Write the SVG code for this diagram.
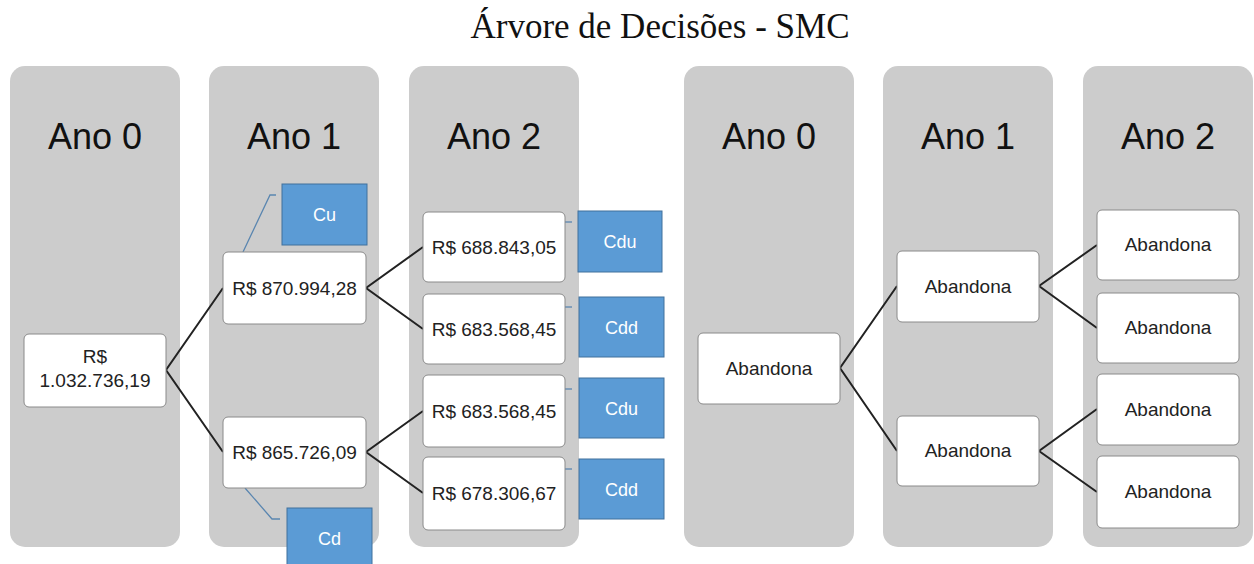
<svg xmlns="http://www.w3.org/2000/svg" width="1254" height="564" viewBox="0 0 1254 564">
  <style>
    .panel { fill: #cccccc; }
    .head { font-family: "Liberation Sans", Arial, sans-serif; font-size: 36px; fill: #111; text-anchor: middle; }
    .node rect { fill: #ffffff; stroke: #8a8a8a; stroke-width: 1; }
    .node text { font-family: "Liberation Sans", Arial, sans-serif; font-size: 19px; fill: #222; text-anchor: middle; }
    .tag rect { fill: #5b9bd5; stroke: #41719c; stroke-width: 1; }
    .tag text { font-family: "Liberation Sans", Arial, sans-serif; font-size: 18px; fill: #ffffff; text-anchor: middle; }
    .edge { stroke: #222; stroke-width: 2; fill: none; }
    .callout { stroke: #5a86b0; stroke-width: 1.3; fill: none; }
    .title { font-family: "Liberation Serif", "Times New Roman", serif; font-size: 35px; fill: #111; text-anchor: middle; }
  </style>

  <rect width="1254" height="564" fill="#ffffff"/>

  <text class="title" x="660" y="38">Árvore de Decisões - SMC</text>

  <!-- year columns -->
  <g id="columns">
    <rect class="panel" x="10" y="66" width="170" height="481" rx="15"/>
    <rect class="panel" x="209" y="66" width="170" height="481" rx="15"/>
    <rect class="panel" x="409" y="66" width="170" height="481" rx="15"/>
    <rect class="panel" x="684" y="66" width="170" height="481" rx="15"/>
    <rect class="panel" x="883" y="66" width="170" height="481" rx="15"/>
    <rect class="panel" x="1083" y="66" width="170" height="481" rx="15"/>
    <text class="head" x="95" y="149">Ano 0</text>
    <text class="head" x="294" y="149">Ano 1</text>
    <text class="head" x="494" y="149">Ano 2</text>
    <text class="head" x="769" y="149">Ano 0</text>
    <text class="head" x="968" y="149">Ano 1</text>
    <text class="head" x="1168" y="149">Ano 2</text>
  </g>

  <!-- branches -->
  <g id="connectors">
    <polyline class="edge" points="223,288 166,370 223,452"/>
    <polyline class="edge" points="423,247 366,288 423,329"/>
    <polyline class="edge" points="423,411 366,452 423,493"/>
    <polyline class="edge" points="897,286 840,368 897,451"/>
    <polyline class="edge" points="1097,245 1039,286 1097,328"/>
    <polyline class="edge" points="1097,409 1039,451 1097,492"/>
    <polyline class="callout" points="243,252 270,195 276,195"/>
    <polyline class="callout" points="245,488 272,519 280,519"/>
    <line class="callout" x1="563" y1="222" x2="572" y2="222"/>
    <line class="callout" x1="560" y1="307" x2="572" y2="307"/>
    <line class="callout" x1="560" y1="389" x2="572" y2="389"/>
    <line class="callout" x1="560" y1="469" x2="572" y2="469"/>
  </g>

  <!-- left tree -->
  <g id="n-l0" class="node">
    <rect x="24" y="334" width="142" height="73" rx="5"/>
    <text x="95" y="363">R$</text>
    <text x="95" y="387">1.032.736,19</text>
  </g>
  <g id="n-l1u" class="node">
    <rect x="223" y="252" width="143" height="72" rx="5"/>
    <text x="294.5" y="294.5">R$ 870.994,28</text>
  </g>
  <g id="n-l1d" class="node">
    <rect x="223" y="417" width="143" height="71" rx="5"/>
    <text x="294.5" y="458.5">R$ 865.726,09</text>
  </g>
  <g id="n-l2uu" class="node">
    <rect x="423" y="212" width="142" height="70" rx="5"/>
    <text x="494" y="253.5">R$ 688.843,05</text>
  </g>
  <g id="n-l2ud" class="node">
    <rect x="423" y="294" width="142" height="70" rx="5"/>
    <text x="494" y="335.5">R$ 683.568,45</text>
  </g>
  <g id="n-l2du" class="node">
    <rect x="423" y="375" width="142" height="72" rx="5"/>
    <text x="494" y="417.5">R$ 683.568,45</text>
  </g>
  <g id="n-l2dd" class="node">
    <rect x="423" y="457" width="142" height="73" rx="5"/>
    <text x="494" y="500">R$ 678.306,67</text>
  </g>

  <!-- labels -->
  <g id="t-cu" class="tag">
    <rect x="282" y="184" width="85" height="61"/>
    <text x="324.5" y="221">Cu</text>
  </g>
  <g id="t-cd" class="tag">
    <rect x="287" y="508" width="85" height="62"/>
    <text x="329.5" y="545">Cd</text>
  </g>
  <g id="t-cdu1" class="tag">
    <rect x="578" y="211" width="84" height="61"/>
    <text x="620" y="248">Cdu</text>
  </g>
  <g id="t-cdd1" class="tag">
    <rect x="579" y="297" width="85" height="60"/>
    <text x="621.5" y="333.5">Cdd</text>
  </g>
  <g id="t-cdu2" class="tag">
    <rect x="579" y="378" width="85" height="60"/>
    <text x="621.5" y="414.5">Cdu</text>
  </g>
  <g id="t-cdd2" class="tag">
    <rect x="579" y="459" width="85" height="60"/>
    <text x="621.5" y="495.5">Cdd</text>
  </g>

  <!-- right tree -->
  <g id="n-r0" class="node">
    <rect x="698" y="333" width="142" height="71" rx="5"/>
    <text x="769" y="374.5">Abandona</text>
  </g>
  <g id="n-r1u" class="node">
    <rect x="897" y="251" width="142" height="71" rx="5"/>
    <text x="968" y="292.5">Abandona</text>
  </g>
  <g id="n-r1d" class="node">
    <rect x="897" y="416" width="142" height="70" rx="5"/>
    <text x="968" y="457">Abandona</text>
  </g>
  <g id="n-r2uu" class="node">
    <rect x="1097" y="210" width="142" height="70" rx="5"/>
    <text x="1168" y="251">Abandona</text>
  </g>
  <g id="n-r2ud" class="node">
    <rect x="1097" y="293" width="142" height="70" rx="5"/>
    <text x="1168" y="334">Abandona</text>
  </g>
  <g id="n-r2du" class="node">
    <rect x="1097" y="374" width="142" height="71" rx="5"/>
    <text x="1168" y="415.5">Abandona</text>
  </g>
  <g id="n-r2dd" class="node">
    <rect x="1097" y="456" width="142" height="72" rx="5"/>
    <text x="1168" y="498">Abandona</text>
  </g>
</svg>
